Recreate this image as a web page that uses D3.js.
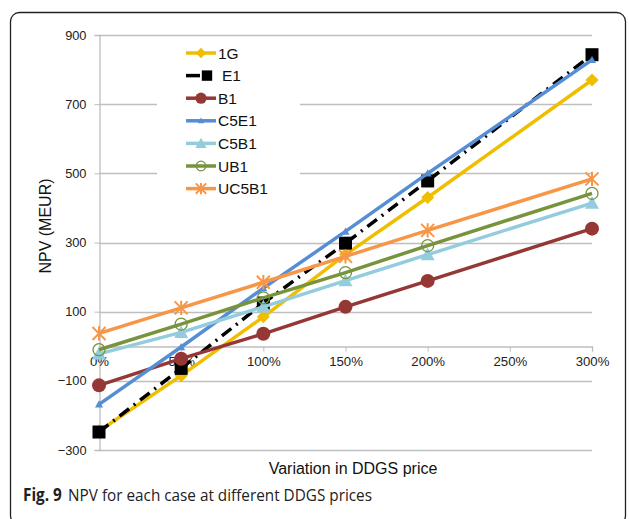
<!DOCTYPE html>
<html><head><meta charset="utf-8">
<script src="https://cdn.jsdelivr.net/npm/d3@7"></script>
<style>body{margin:0;background:#fff;}svg{display:block;}</style>
</head><body>
<svg id="c" width="629" height="519"></svg>
<script>
const categories = [0, 50, 100, 150, 200, 300];
const xTicks = [0, 50, 100, 150, 200, 250, 300];
const yTicks = [-300, -100, 100, 300, 500, 700, 900];
const seriesNames = ["1G", "E1", "B1", "C5E1", "C5B1", "UB1", "UC5B1"];
const v1G    = [-245, -85, 85, 265, 430, 770];
const vE1    = [-248, -64, 125, 298, 478, 843];
const vB1    = [-113, -36, 36, 114, 189, 340];
const vC5E1  = [-168, -2, 168, 332, 500, 828];
const vC5B1  = [-22, 40, 114, 190, 265, 414];
const vUB1   = [-10, 64, 140, 213, 291, 442];
const vUC5B1 = [37, 111, 185, 260, 335, 484];

const series = [
  {name:"1G", values:v1G, color:"#F0BE00", marker:"diamond", dash:null},
  {name:"E1", values:vE1, color:"#000000", marker:"square", dash:"12,6,2,6"},
  {name:"B1", values:vB1, color:"#953735", marker:"circle", dash:null},
  {name:"C5E1", values:vC5E1, color:"#558ED5", marker:"smalltri", dash:null},
  {name:"C5B1", values:vC5B1, color:"#93CDDD", marker:"triangle", dash:null},
  {name:"UB1", values:vUB1, color:"#77933C", marker:"opencircle", dash:null},
  {name:"UC5B1", values:vUC5B1, color:"#F79646", marker:"asterisk", dash:null}
];

const FONT = "'Liberation Sans', Arial, sans-serif";
const svg = d3.select("#c");
// outer frame
svg.append("rect").attr("x",10.5).attr("y",12.5).attr("width",615).attr("height",512)
  .attr("rx",9).attr("fill","none").attr("stroke","#222").attr("stroke-width",1.3);

const x = d3.scaleLinear().domain([0,300]).range([99,592]);
const y = d3.scaleLinear().domain([-300,900]).range([450,35]);

// gridlines
svg.append("g").selectAll("line").data(yTicks).join("line")
  .attr("x1",99).attr("x2",592).attr("y1",d=>Math.round(y(d))+0.5).attr("y2",d=>Math.round(y(d))+0.5)
  .attr("stroke","#BEBEBE").attr("stroke-width",1.3);

// y axis
const yAxis = svg.append("g").attr("transform","translate(99.5,0)")
  .call(d3.axisLeft(y).tickValues(yTicks).tickSize(5).tickPadding(8).tickFormat(d3.format("d")));
yAxis.select(".domain").attr("stroke","#BEBEBE").attr("stroke-width",1.3);
yAxis.selectAll(".tick line").attr("stroke","#BEBEBE");
yAxis.selectAll("text").attr("font-family",FONT).attr("font-size",12.8).attr("fill","#222");

// x axis at zero
const xAxis = svg.append("g").attr("transform",`translate(0,${Math.round(y(0))+0.5})`)
  .call(d3.axisBottom(x).tickValues(xTicks).tickSize(5).tickPadding(5).tickFormat(d=>d+"%"));
xAxis.select(".domain").attr("stroke","#BEBEBE").attr("stroke-width",1.3);
xAxis.selectAll(".tick line").attr("stroke","#BEBEBE");
xAxis.selectAll("text").attr("font-family",FONT).attr("font-size",13.2).attr("fill","#222");

// axis titles
svg.append("text").attr("transform","translate(51,226) rotate(-90)").attr("text-anchor","middle")
  .attr("font-family",FONT).attr("font-size",16).attr("fill","#111").text("NPV (MEUR)");
svg.append("text").attr("x",353).attr("y",474).attr("text-anchor","middle")
  .attr("font-family",FONT).attr("font-size",16).attr("fill","#111").text("Variation in DDGS price");

// caption
const cap = svg.append("text").attr("x",23).attr("y",501)
  .attr("font-family","'Open Sans', sans-serif").attr("font-size",17).attr("fill","#222")
  .attr("textLength",349).attr("lengthAdjust","spacingAndGlyphs");
cap.append("tspan").attr("font-weight","bold").text("Fig. 9");
cap.append("tspan").attr("dx",7).text("NPV for each case at different DDGS prices");

function drawMarker(g, type, color, cx, cy, scale){
  scale = scale||1;
  if(type==="diamond"){
    const s=6.5*scale;
    g.append("path").attr("d",`M${cx},${cy-s}L${cx+s},${cy}L${cx},${cy+s}L${cx-s},${cy}Z`).attr("fill",color);
  } else if(type==="square"){
    const s=6.5*scale;
    g.append("rect").attr("x",cx-s).attr("y",cy-s).attr("width",2*s).attr("height",2*s).attr("fill",color);
  } else if(type==="circle"){
    g.append("circle").attr("cx",cx).attr("cy",cy).attr("r",7*scale).attr("fill",color);
  } else if(type==="smalltri"){
    const s=4*scale;
    g.append("path").attr("d",`M${cx},${cy-s}L${cx+s},${cy+s*0.8}L${cx-s},${cy+s*0.8}Z`).attr("fill",color);
  } else if(type==="triangle"){
    const s=7*scale;
    g.append("path").attr("d",`M${cx},${cy-s}L${cx+s},${cy+s*0.8}L${cx-s},${cy+s*0.8}Z`).attr("fill",color);
  } else if(type==="opencircle"){
    g.append("circle").attr("cx",cx).attr("cy",cy).attr("r",6*scale).attr("fill","none").attr("stroke",color).attr("stroke-width",1.3);
  } else if(type==="asterisk"){
    const s=6.5*scale;
    g.append("path").attr("d",`M${cx-s},${cy-s}L${cx+s},${cy+s}M${cx-s},${cy+s}L${cx+s},${cy-s}M${cx},${cy-s*1.1}L${cx},${cy+s*1.1}`)
      .attr("stroke",color).attr("stroke-width",2).attr("fill","none");
  }
}

const line = d3.line().x((d,i)=>x(categories[i])).y(d=>y(d));
series.forEach(s=>{
  const g = svg.append("g");
  g.append("path").attr("d",line(s.values)).attr("fill","none").attr("stroke",s.color)
    .attr("stroke-width",3.5).attr("stroke-dasharray",s.dash).attr("stroke-linecap","butt");
  s.values.forEach((v,i)=>drawMarker(g,s.marker,s.color,x(categories[i]),y(v)));
});

// legend
const leg = svg.append("g");
leg.append("rect").attr("x",157).attr("y",40).attr("width",143).attr("height",160).attr("fill","#fff");
series.forEach((s,i)=>{
  const ly = 53 + i*22.6;
  const gg = leg.append("g");
  gg.append("line").attr("x1",186).attr("x2",s.name==="E1"?200:216).attr("y1",ly).attr("y2",ly)
    .attr("stroke",s.color).attr("stroke-width",3.5);
  drawMarker(gg,s.marker,s.color,s.name==="E1"?207:201,ly,0.8);
  gg.append("text").attr("x",s.name==="E1"?222:218).attr("y",ly+5.5).attr("font-family",FONT)
    .attr("font-size",15.5).attr("fill","#111").text(s.name);
});
</script>
</body></html>
